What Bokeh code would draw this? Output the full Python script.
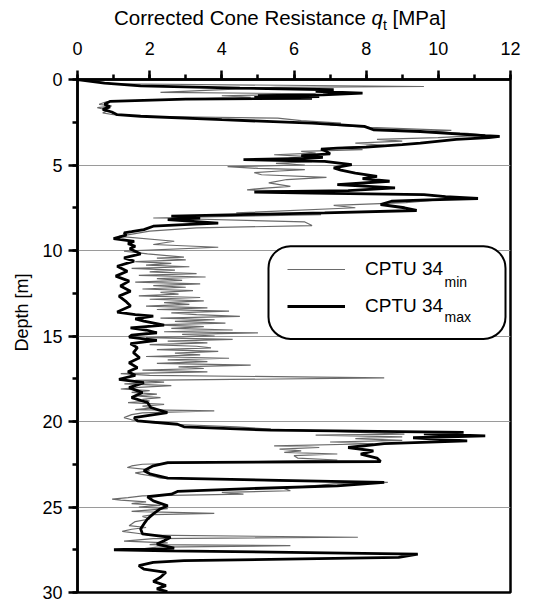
import math
from bokeh.plotting import figure
from bokeh.layouts import column
from bokeh.models import (Range1d, SingleIntervalTicker, Label, Legend, LegendItem,
                          BoxAnnotation, Title, Div)
from bokeh.embed import file_html
from bokeh.resources import INLINE

# ---------------- data ----------------
depth_max = [
    0.00, 0.21, 0.37, 0.50, 0.60, 0.70, 0.80, 0.90, 0.95, 1.00, 1.05, 1.10, 1.15, 1.28, 1.45, 1.60, 1.75, 1.90, 2.06, 2.15,
    2.35, 2.55, 2.74, 2.94, 3.04, 3.20, 3.29, 3.33, 3.40, 3.50, 3.72, 3.81, 3.95, 4.01, 4.07, 4.20, 4.35, 4.45, 4.55, 4.62,
    4.69, 4.79, 4.98, 5.17, 5.30, 5.47, 5.66, 5.80, 5.95, 6.15, 6.34, 6.50, 6.58, 6.65, 6.73, 6.85, 6.96, 7.05, 7.12, 7.31,
    7.50, 7.66, 7.80, 7.90, 7.99, 8.10, 8.20, 8.30, 8.40, 8.50, 8.58, 8.78, 8.90, 8.97, 9.10, 9.30, 9.46, 9.60, 9.75, 9.90,
    10.04, 10.20, 10.43, 10.62, 10.92, 11.21, 11.50, 11.79, 12.08, 12.38, 12.67, 12.96, 13.25, 13.60, 13.75, 13.84, 14.00, 14.13, 14.36, 14.52,
    14.65, 14.81, 14.95, 15.06, 15.25, 15.45, 15.68, 15.97, 16.27, 16.56, 16.85, 17.09, 17.30, 17.53, 17.73, 18.02, 18.31, 18.60, 18.89, 19.18,
    19.48, 19.77, 19.96, 20.16, 20.31, 20.51, 20.64, 20.72, 20.84, 20.95, 21.13, 21.29, 21.52, 21.72, 21.91, 22.14, 22.34, 22.40, 22.59, 22.88,
    23.08, 23.31, 23.47, 23.56, 23.76, 23.95, 24.09, 24.25, 24.40, 24.64, 24.93, 25.10, 25.40, 25.70, 25.99, 26.28, 26.57, 26.77, 26.97, 27.17,
    27.40, 27.50, 27.56, 27.75, 27.95, 28.14, 28.24, 28.43, 28.63, 28.82, 29.11, 29.35, 29.60, 29.79, 29.95,
]
qt_max = [
    0.0, 0.75, 1.75, 4.5, 7.1, 6.6, 7.9, 6.8, 5.0, 6.7, 4.9, 6.5, 3.0, 0.9, 0.75, 0.9, 0.7, 0.95, 1.1, 1.75,
    4.0, 6.5, 7.95, 8.2, 9.5, 10.6, 11.3, 11.7, 11.4, 10.5, 9.5, 9.0, 8.0, 7.2, 6.75, 6.9, 7.0, 6.2, 6.8, 6.3,
    4.6, 6.85, 7.6, 7.1, 7.3, 7.7, 8.3, 7.9, 8.65, 7.2, 8.8, 7.5, 4.9, 6.5, 9.6, 10.2, 11.1, 9.5, 8.7, 8.4,
    9.06, 9.4, 6.85, 4.5, 2.6, 3.4, 2.5, 3.2, 3.9, 2.8, 2.1, 1.84, 1.5, 1.29, 1.35, 1.0, 1.57, 1.4, 1.6, 1.45,
    1.6, 1.75, 1.29, 1.57, 1.1, 1.38, 1.06, 1.43, 1.19, 1.47, 1.15, 1.33, 1.47, 1.1, 1.6, 2.1, 1.6, 1.84, 2.4, 1.47,
    1.9, 2.2, 1.5, 1.43, 2.2, 1.47, 1.66, 1.55, 1.72, 1.43, 1.66, 1.4, 1.6, 1.15, 1.84, 1.43, 1.8, 1.5, 1.94, 2.03,
    2.49, 1.57, 1.66, 2.77, 2.95, 5.36, 10.7, 9.6, 11.3, 9.3, 10.8, 8.5, 7.5, 8.2, 7.85, 8.3, 8.4, 2.5, 2.1, 1.84,
    2.03, 2.5, 6.3, 8.5, 7.2, 4.4, 2.77, 2.6, 1.94, 2.1, 2.5, 2.3, 2.1, 1.94, 1.84, 1.75, 1.8, 2.58, 2.4, 2.2,
    2.68, 1.01, 2.5, 9.43, 8.9, 2.95, 2.1, 1.7, 1.84, 2.45, 2.3, 2.1, 2.45, 2.2, 2.49,
]

depth_min = [
    0.00, 0.25, 0.41, 0.46, 0.75, 0.84, 0.95, 1.05, 1.20, 1.30, 1.45, 1.55, 1.65, 1.80, 1.95, 2.06, 2.15, 2.26, 2.40, 2.55,
    2.65, 2.80, 2.90, 2.98, 3.05, 3.15, 3.25, 3.40, 3.50, 3.60, 3.72, 3.85, 4.00, 4.10, 4.20, 4.30, 4.40, 4.50, 4.60, 4.69,
    4.80, 4.90, 5.00, 5.10, 5.20, 5.27, 5.35, 5.45, 5.57, 5.72, 5.85, 6.05, 6.25, 6.35, 6.45, 6.55, 6.64, 6.73, 6.96, 7.20,
    7.36, 7.50, 7.80, 7.90, 8.10, 8.33, 8.54, 8.68, 8.87, 9.17, 9.46, 9.65, 9.81, 10.04, 10.20, 10.39, 10.45, 10.55, 10.65, 10.75,
    10.85, 10.95, 11.05, 11.15, 11.25, 11.35, 11.45, 11.55, 11.65, 11.75, 11.85, 11.95, 12.05, 12.15, 12.25, 12.35, 12.45, 12.55, 12.65, 12.75,
    12.85, 12.95, 13.05, 13.15, 13.25, 13.35, 13.45, 13.55, 13.65, 13.75, 13.85, 13.95, 14.05, 14.15, 14.25, 14.35, 14.45, 14.55, 14.65, 14.75,
    14.82, 14.90, 15.00, 15.10, 15.20, 15.30, 15.40, 15.50, 15.60, 15.70, 15.80, 15.90, 16.00, 16.10, 16.20, 16.30, 16.40, 16.50, 16.60, 16.70,
    16.80, 16.90, 17.00, 17.10, 17.20, 17.30, 17.45, 17.60, 17.70, 17.80, 17.90, 18.00, 18.10, 18.20, 18.30, 18.40, 18.50, 18.60, 18.70, 18.80,
    18.90, 19.00, 19.10, 19.20, 19.30, 19.38, 19.50, 19.60, 19.77, 19.90, 20.05, 20.16, 20.31, 20.45, 20.55, 20.65, 20.74, 20.80, 20.90, 21.00,
    21.10, 21.20, 21.30, 21.42, 21.52, 21.62, 21.72, 21.81, 21.90, 22.00, 22.14, 22.25, 22.35, 22.40, 22.50, 22.60, 22.69, 22.80, 22.88, 23.00,
    23.08, 23.20, 23.31, 23.40, 23.47, 23.56, 23.65, 23.76, 23.90, 24.05, 24.15, 24.25, 24.35, 24.45, 24.54, 24.60, 24.70, 24.80, 24.90, 25.00,
    25.10, 25.26, 25.37, 25.45, 25.55, 25.70, 25.85, 26.00, 26.09, 26.20, 26.30, 26.43, 26.55, 26.65, 26.77, 26.85, 26.99, 27.10, 27.20, 27.26,
    27.35, 27.45, 27.56,
]
qt_min = [
    0.0, 1.0, 9.6, 5.5, 2.3, 6.6, 4.0, 4.8, 2.0, 0.8, 0.6, 0.95, 0.55, 0.85, 0.7, 1.0, 1.8, 5.55, 6.2, 7.3,
    7.0, 8.1, 9.4, 10.36, 9.6, 10.8, 11.3, 9.99, 8.3, 9.0, 7.7, 8.5, 7.2, 7.9, 6.2, 6.6, 5.45, 6.3, 5.9, 5.73,
    6.5, 5.5, 6.3, 4.16, 5.0, 6.3, 5.6, 4.9, 5.1, 6.9, 5.8, 5.3, 5.9, 5.2, 4.7, 6.5, 6.1, 9.6, 10.5, 9.1,
    7.1, 7.7, 4.4, 6.75, 2.1, 6.3, 6.5, 3.3, 2.0, 1.15, 2.68, 2.1, 3.9, 1.29, 1.94, 2.95, 2.2, 3.0, 1.6, 2.6,
    1.9, 3.1, 1.5, 2.7, 2.0, 3.3, 1.7, 3.55, 2.2, 2.9, 1.6, 3.4, 2.1, 3.0, 1.8, 3.2, 2.3, 2.8, 1.7, 3.4,
    2.0, 3.5, 2.4, 3.1, 1.9, 3.6, 2.2, 4.2, 2.6, 3.3, 4.5, 2.3, 3.8, 2.7, 4.1, 2.1, 3.5, 2.6, 4.3, 2.4,
    5.0, 2.9, 3.8, 1.9, 4.3, 2.5, 3.6, 2.0, 3.3, 3.7, 2.2, 3.9, 2.7, 3.4, 1.9, 4.2, 2.5, 3.6, 2.2, 4.8,
    2.8, 3.5, 1.8, 3.6, 1.2, 2.0, 8.5, 1.6, 2.4, 1.3, 2.6, 1.7, 1.2, 2.0, 1.5, 2.2, 1.6, 2.3, 1.8, 2.0,
    1.4, 2.4, 1.8, 2.1, 1.6, 3.79, 1.8, 1.5, 1.29, 1.5, 2.0, 2.6, 4.4, 5.36, 6.8, 8.0, 9.06, 6.6, 9.0, 7.7,
    9.0, 7.0, 8.2, 5.45, 6.7, 5.6, 6.2, 5.73, 7.2, 6.0, 6.1, 7.2, 5.0, 3.5, 1.8, 1.5, 1.38, 1.9, 2.0, 1.6,
    1.75, 2.1, 2.3, 4.5, 5.7, 8.6, 7.1, 6.5, 5.7, 5.9, 4.0, 4.6, 1.8, 1.4, 0.96, 1.2, 1.9, 1.5, 2.3, 1.7,
    2.5, 1.5, 3.79, 2.1, 1.8, 2.0, 1.6, 1.5, 1.43, 1.9, 1.5, 1.24, 1.7, 2.0, 7.77, 2.1, 1.29, 2.5, 2.0, 5.9,
    2.2, 1.8, 1.7,
]

series_names = ["CPTU 34", "CPTU 34"]
series_subs = ["min", "max"]
x_title_html = "Corrected Cone Resistance <i>q</i><sub style='font-size:14px'>t</sub> [MPa]"
y_title = "Depth [m]"

# ---------------- layout ----------------
FONT = "Liberation Sans"
W, H = 533, 602
TITLE_H = 38                      # height of the html title strip above the figure
L, R, T, B = 77, 510, 78, 592     # frame edges in page pixels
X0, X1, Y0, Y1 = 0.0, 12.0, 0.0, 30.0


def dx(px):
    return X0 + (px - L) * (X1 - X0) / (R - L)


def dy(py):
    return Y0 + (py - T) * (Y1 - Y0) / (B - T)


title_div = Div(
    text=("<div style=\"font-family:'Liberation Sans',Arial,sans-serif;font-size:20.5px;color:black;"
          "white-space:nowrap;padding-left:114px;padding-top:6px;line-height:24px;\">"
          + x_title_html + "</div>"),
    width=W, height=TITLE_H, margin=0)

p = figure(width=W, height=H - TITLE_H, x_range=Range1d(X0, X1), y_range=Range1d(Y1, Y0),
           x_axis_location="above", output_backend="svg", toolbar_location=None,
           min_border_left=L, min_border_right=W - R, min_border_top=T - TITLE_H,
           min_border_bottom=H - B)
p.background_fill_color = "white"
p.border_fill_color = "white"
p.outline_line_color = "black"
p.outline_line_width = 2.5

p.xaxis.ticker = SingleIntervalTicker(interval=2, num_minor_ticks=2)
p.yaxis.ticker = SingleIntervalTicker(interval=5, num_minor_ticks=2)
for ax in (p.xaxis, p.yaxis):
    ax.axis_line_width = 2.5
    ax.axis_line_color = "black"
    ax.major_tick_line_width = 2.5
    ax.minor_tick_line_width = 2.5
    ax.major_tick_out = 9
    ax.major_tick_in = 0
    ax.minor_tick_out = 5
    ax.minor_tick_in = 0
    ax.major_label_text_font = FONT
    ax.major_label_text_font_size = "18px"
    ax.major_label_text_color = "black"
p.xaxis.major_label_standoff = 16
p.yaxis.major_label_standoff = 6

p.add_layout(Title(text=y_title, align="right", offset=194, standoff=16,
                   text_font=FONT, text_font_size="18px", text_font_style="normal",
                   text_color="black"), "left")

p.xgrid.visible = False
p.ygrid.grid_line_color = "#9a9a9a"
p.ygrid.grid_line_width = 1.2

r_min = p.line(qt_min, depth_min, line_color="#6a6a6a", line_width=1.2)
r_max = p.line(qt_max, depth_max, line_color="black", line_width=2.8)

# legend box with rounded corners
box = BoxAnnotation(left=dx(268), right=dx(505), top=dy(245), bottom=dy(338),
                    fill_color="white", fill_alpha=1.0, line_color="black", line_alpha=1.0,
                    line_width=2, border_radius=22)
p.add_layout(box)

legend = Legend(items=[LegendItem(label=series_names[0], renderers=[r_min]),
                       LegendItem(label=series_names[1], renderers=[r_max])],
                location=(200, 265), orientation="vertical",
                border_line_alpha=0, background_fill_alpha=0,
                glyph_width=58, glyph_height=20, label_height=20, label_standoff=20,
                spacing=15, padding=10, margin=0,
                label_text_font=FONT, label_text_font_size="19px", label_text_color="black")
p.add_layout(legend)

for i, sub in enumerate(series_subs):
    p.add_layout(Label(x=dx(444), y=dy(281 + 35 * i), text=sub, text_font=FONT,
                       text_font_size="14px", text_color="black",
                       text_align="left", text_baseline="alphabetic"))

layout = column(title_div, p, spacing=0)
open("out.html", "w").write(file_html(layout, INLINE))
